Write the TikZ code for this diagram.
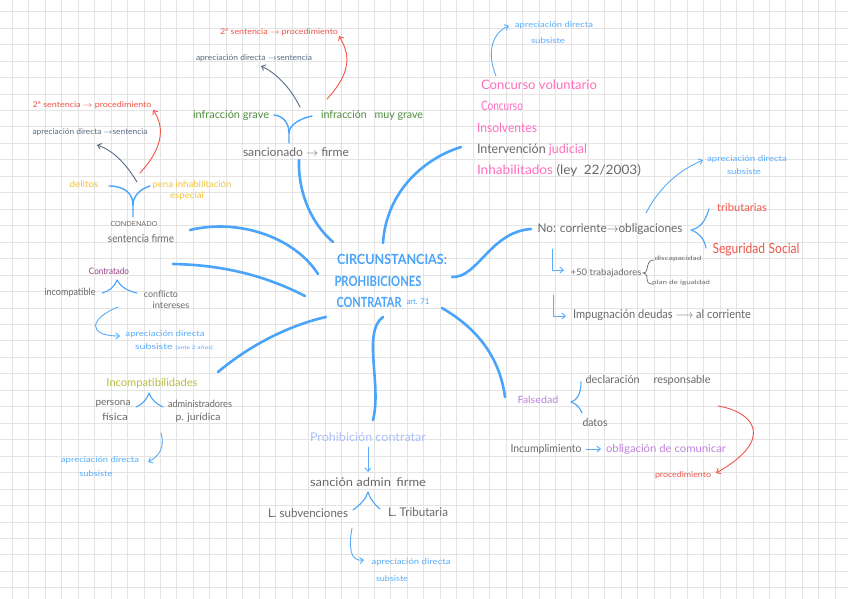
\documentclass[tikz,border=0pt]{standalone}
\usepackage{fontspec}
\setmainfont{Lato}
\usepackage{graphicx}
\usetikzlibrary{arrows.meta}
\definecolor{blueM}{RGB}{74,164,250}
\definecolor{blueA}{RGB}{88,172,250}
\definecolor{redC}{RGB}{240,84,72}
\definecolor{greenC}{RGB}{78,140,62}
\definecolor{grayT}{RGB}{105,105,105}
\definecolor{slateC}{RGB}{88,108,130}
\definecolor{yellowC}{RGB}{240,196,60}
\definecolor{pinkC}{RGB}{255,110,190}
\definecolor{purpleC}{RGB}{150,60,130}
\definecolor{oliveC}{RGB}{185,190,60}
\definecolor{lavC}{RGB}{170,190,250}
\definecolor{violetC}{RGB}{190,130,220}
\definecolor{gridC}{RGB}{228,228,228}
\newcommand\fw[2]{\resizebox{#1pt}{\height}{#2}}
\newcommand\fs[1]{\fontsize{#1}{#1}\selectfont}
\begin{document}
\begin{tikzpicture}[x=1pt,y=-1pt,
  tx/.style={inner sep=0pt, anchor=center},
  mainline/.style={draw=blueM, line width=2.6pt, line cap=round},
  forkline/.style={draw=blueM, line width=1.4pt, line cap=round, line join=round},
  note/.style={line width=0.9pt, line cap=round, line join=round},
  tip/.style={-{Straight Barb[length=3.5pt,width=6pt]}},
]
\useasboundingbox (0,0) rectangle (848,599);
\fill[white] (0,0) rectangle (848,599);
\begin{scope}
\clip (0,0) rectangle (848,599);
\foreach \i in {0,...,50} \draw[gridC, line width=0.9pt] ({12.3+16.46*\i},0) -- ({12.3+16.46*\i},599);
\foreach \j in {0,...,35} \draw[gridC, line width=0.9pt] (0,{11.7+16.46*\j}) -- (848,{11.7+16.46*\j});
\end{scope}

% ---------- centre ----------
\node[tx, text=blueM, font=\fs{14}\bfseries] (c1) at (392,259) {\fw{110}{CIRCUNSTANCIAS:}};
\node[tx, text=blueM, font=\fs{14}\bfseries] (c2) at (378,281) {\fw{87}{PROHIBICIONES}};
\node[tx, text=blueM, font=\fs{14}\bfseries] (c3) at (369,302) {\fw{65}{CONTRATAR}};
\node[tx, text=blueM, font=\fs{8}] (c4) at (418,302) {\fw{23}{art. 71}};

% ---------- top-left cluster ----------
\node[tx, text=redC, font=\fs{8}] (n1) at (92,105) {\fw{119}{2ª sentencia $\rightarrow$ procedimiento}};
\node[tx, text=slateC, font=\fs{8}] (n2) at (90,132) {\fw{115}{apreciación directa $\rightarrow$sentencia}};
\node[tx, text=yellowC, font=\fs{9}] (n3) at (84,184) {\fw{29}{delitos}};
\node[tx, text=yellowC, font=\fs{9}] (n4) at (192,185) {\fw{79}{pena inhabilitación}};
\node[tx, text=yellowC, font=\fs{9}] (n5) at (187,196) {\fw{34}{especial}};
\node[tx, text=grayT, font=\fs{7}] (n6) at (134,224) {\fw{47}{CONDENADO}};
\node[tx, text=grayT, font=\fs{11}] (n7) at (141,238) {\fw{66}{sentencia firme}};

% ---------- top-centre cluster ----------
\node[tx, text=redC, font=\fs{8}] (n8) at (279,32) {\fw{118}{2ª sentencia $\rightarrow$ procedimiento}};
\node[tx, text=slateC, font=\fs{8}] (n9) at (254,58) {\fw{116}{apreciación directa $\rightarrow$sentencia}};
\node[tx, text=greenC, font=\fs{11}] (n10) at (231,115) {\fw{76}{infracción grave}};
\node[tx, text=greenC, font=\fs{11}] (n11) at (372,115) {\fw{102}{infracción\hspace{8pt}muy grave}};
\node[tx, text=grayT, font=\fs{12}] (n12) at (296,152) {\fw{106}{sancionado $\rightarrow$ firme}};

% ---------- top-right list ----------
\node[tx, text=blueA, font=\fs{8}] (n13) at (554,25) {\fw{78}{apreciación directa}};
\node[tx, text=blueA, font=\fs{8}] (n14) at (548,41) {\fw{34}{subsiste}};
\node[tx, text=pinkC, font=\fs{13}] (n15) at (539,85) {\fw{116}{Concurso voluntario}};
\node[tx, text=pinkC, font=\fs{13}] (n16) at (502,106) {\fw{42}{Concurso}};
\node[tx, text=pinkC, font=\fs{13}] (n17) at (507,128) {\fw{60}{Insolventes}};
\node[tx, font=\fs{13}] (n18) at (532,150) {\fw{110}{\color{grayT}Intervención \color{pinkC}judicial}};
\node[tx, font=\fs{13}] (n19) at (559,171) {\fw{164}{\color{pinkC}Inhabilitados \color{grayT}(ley\hspace{6pt}22/2003)}};

% ---------- right cluster ----------
\node[tx, text=blueA, font=\fs{8}] (n20) at (747,159) {\fw{80}{apreciación directa}};
\node[tx, text=blueA, font=\fs{8}] (n21) at (744,172) {\fw{34}{subsiste}};
\node[tx, text=grayT, font=\fs{12}] (n22) at (610,229) {\fw{145}{No: corriente$\rightarrow$obligaciones}};
\node[tx, text=redC, font=\fs{11}] (n23) at (742,207) {\fw{50}{tributarias}};
\node[tx, text=redC, font=\fs{14}] (n24) at (756,250) {\fw{87}{Seguridad\hspace{4pt}Social}};
\node[tx, text=grayT, font=\fs{9}] (n25) at (606,273) {\fw{71}{+50 trabajadores}};
\node[tx, text=grayT, font=\fs{6}] (n26) at (678,259) {\fw{47}{discapacidad}};
\node[tx, text=grayT, font=\fs{6}] (n27) at (681,283) {\fw{58}{plan de igualdad}};
\node[tx, text=grayT, font=\fs{12}] (n28) at (662,315) {\fw{178}{Impugnación deudas $\longrightarrow$ al corriente}};

% ---------- Contratado ----------
\node[tx, text=purpleC, font=\fs{9}] (n33) at (109,271) {\fw{40}{Contratado}};
\node[tx, text=grayT, font=\fs{10}] (n34) at (70,293) {\fw{51}{incompatible}};
\node[tx, text=grayT, font=\fs{9}] (n35) at (161,294) {\fw{34}{conflicto}};
\node[tx, text=grayT, font=\fs{9}] (n36) at (171,305) {\fw{37}{intereses}};
\node[tx, text=blueA, font=\fs{8}] (n37) at (165,334) {\fw{79}{apreciación directa}};
\node[tx, text=blueA, font=\fs{8}] (n38) at (174,347) {\fw{78}{subsiste {\fs{5}[ante 2 años]}}};

% ---------- Incompatibilidades ----------
\node[tx, text=oliveC, font=\fs{11}] (n39) at (152,383) {\fw{91}{Incompatibilidades}};
\node[tx, text=grayT, font=\fs{10}] (n40) at (113,404) {\fw{35}{persona}};
\node[tx, text=grayT, font=\fs{10}] (n41) at (115,417) {\fw{26}{física}};
\node[tx, text=grayT, font=\fs{10}] (n42) at (200,404) {\fw{64}{administradores}};
\node[tx, text=grayT, font=\fs{10}] (n43) at (198,418) {\fw{45}{p. jurídica}};
\node[tx, text=blueA, font=\fs{8}] (n44) at (100,460) {\fw{78}{apreciación directa}};
\node[tx, text=blueA, font=\fs{8}] (n45) at (96,474) {\fw{33}{subsiste}};

% ---------- Prohibición contratar ----------
\node[tx, text=lavC, font=\fs{12}] (n46) at (368,437) {\fw{116}{Prohibición contratar}};
\node[tx, text=grayT, font=\fs{12}] (n47) at (368,482) {\fw{116}{sanción admin\hspace{5pt}firme}};
\node[tx, text=grayT, font=\fs{12}] (n48) at (308,513) {\fw{80}{L. subvenciones}};
\node[tx, text=grayT, font=\fs{12}] (n49) at (418,512) {\fw{60}{L. Tributaria}};
\node[tx, text=blueA, font=\fs{8}] (n50) at (411,562) {\fw{79}{apreciación directa}};
\node[tx, text=blueA, font=\fs{8}] (n51) at (392,579) {\fw{32}{subsiste}};

% ---------- Falsedad ----------
\node[tx, text=grayT, font=\fs{11}] (n52) at (648,380) {\fw{125}{declaración\hspace{14pt}responsable}};
\node[tx, text=violetC, font=\fs{10}] (n53) at (538,400) {\fw{41}{Falsedad}};
\node[tx, text=grayT, font=\fs{11}] (n54) at (595,422) {\fw{25}{datos}};
\node[tx, text=grayT, font=\fs{11}] (n55) at (546,449) {\fw{71}{Incumplimiento}};
\node[tx, text=violetC, font=\fs{11}] (n56) at (666,449) {\fw{120}{obligación de comunicar}};
\node[tx, text=redC, font=\fs{8}] (n57) at (683,475) {\fw{56}{procedimiento}};

% ---------- coordinates ----------
\coordinate (m1a) at (299,160); \coordinate (m1b) at (333,242);
\coordinate (m2a) at (461,147); \coordinate (m2b) at (383,243);
\coordinate (m3a) at (190,230); \coordinate (m3b) at (318,274);
\coordinate (m4a) at (173,264); \coordinate (m4b) at (305,296);
\coordinate (m5a) at (218,372); \coordinate (m5b) at (326,317);
\coordinate (m6a) at (452,277); \coordinate (m6b) at (531,229);
\coordinate (m7a) at (442,308); \coordinate (m7b) at (505,397);
\coordinate (m8a) at (383,317); \coordinate (m8b) at (373,420);

% ---------- main branches ----------
\draw[mainline] (m1a) .. controls (298,195) and (313,225) .. (m1b);
\draw[mainline] (m2a) .. controls (420,160) and (386,195) .. (m2b);
\draw[mainline] (m3a) .. controls (240,218) and (295,238) .. (m3b);
\draw[mainline] (m4a) .. controls (228,265) and (270,278) .. (m4b);
\draw[mainline] (m5a) .. controls (250,345) and (290,325) .. (m5b);
\draw[mainline] (m6a) .. controls (478,278) and (490,232) .. (m6b);
\draw[mainline] (m7a) .. controls (480,330) and (500,360) .. (m7b);
\draw[mainline] (m8a) .. controls (362,332) and (382,385) .. (m8b);

% ---------- forks ----------
\coordinate (f1l) at (109,186); \coordinate (f1r) at (150,186); \coordinate (f1j) at (133,205); \coordinate (f1s) at (133,217);
\draw[forkline] (f1l) .. controls (125,186) and (133,194) .. (f1j);
\draw[forkline] (f1r) .. controls (140,189) and (133,196) .. (f1j) -- (f1s);
\coordinate (f2l) at (274,115); \coordinate (f2r) at (312,116); \coordinate (f2j) at (289,133); \coordinate (f2s) at (289,143);
\draw[forkline] (f2l) .. controls (284,116) and (289,124) .. (f2j);
\draw[forkline] (f2r) .. controls (298,119) and (289,126) .. (f2j) -- (f2s);

% carets
\coordinate (k1l) at (102,293); \coordinate (k1p) at (117,280); \coordinate (k1r) at (137,293);
\draw[forkline, line width=1.1pt] (k1l) .. controls (110,291) and (115,286) .. (k1p) .. controls (120,286) and (127,291) .. (k1r);
\coordinate (k2l) at (136,407); \coordinate (k2p) at (149,393); \coordinate (k2r) at (163,407);
\draw[forkline, line width=1.1pt] (k2l) .. controls (143,404) and (147,399) .. (k2p) .. controls (151,399) and (156,404) .. (k2r);
\coordinate (k3l) at (353,510); \coordinate (k3p) at (368,492); \coordinate (k3r) at (380,509);
\draw[forkline, line width=1.1pt] (k3l) .. controls (360,505) and (366,499) .. (k3p) .. controls (370,499) and (375,505) .. (k3r);

% braces
\coordinate (b1t) at (709,209); \coordinate (b1p) at (691,230); \coordinate (b1b) at (706,248);
\draw[forkline, line width=1.1pt] (b1t) .. controls (705,222) and (700,228) .. (b1p) .. controls (699,233) and (704,238) .. (b1b);
\coordinate (b3t) at (581,382); \coordinate (b3p) at (571,402); \coordinate (b3b) at (582,413);
\draw[forkline, line width=1.1pt] (b3t) .. controls (581,394) and (577,400) .. (b3p) .. controls (577,404) and (580,408) .. (b3b);
\coordinate (b2t) at (654,260); \coordinate (b2p) at (643,273); \coordinate (b2b) at (652,284);
\draw[grayT, line width=0.7pt] (b2t) .. controls (648,260) and (648,265) .. (647,269) .. controls (647,272) and (645,273) .. (b2p) .. controls (645,273) and (647,274) .. (647,277) .. controls (647,282) and (648,284) .. (b2b);

% ---------- annotation arrows ----------
\coordinate (a1s) at (137,182); \coordinate (a1e) at (97,145);
\draw[note, slateC, tip] (a1s) .. controls (125,162) and (112,150) .. (a1e);
\coordinate (a2s) at (300,107); \coordinate (a2e) at (261,66);
\draw[note, slateC, tip] (a2s) .. controls (290,87) and (276,73) .. (a2e);
\coordinate (r1s) at (140,173); \coordinate (r1e) at (153,110);
\draw[note, redC, tip] (r1s) .. controls (166,145) and (163,124) .. (r1e);
\coordinate (r2s) at (327,99); \coordinate (r2e) at (339,36);
\draw[note, redC, tip] (r2s) .. controls (352,72) and (350,54) .. (r2e);
\coordinate (u1s) at (496,76); \coordinate (u1e) at (509,26);
\draw[note, blueA, tip] (u1s) .. controls (486,52) and (493,32) .. (u1e);
\coordinate (u2s) at (646,213); \coordinate (u2e) at (703,160);
\draw[note, blueA, tip] (u2s) .. controls (660,186) and (680,170) .. (u2e);
\coordinate (u3s) at (118,307); \coordinate (u3e) at (120,336);
\draw[note, blueA, tip] (u3s) .. controls (90,318) and (86,336) .. (u3e);
\coordinate (u4s) at (161,433); \coordinate (u4e) at (148,462);
\draw[note, blueA, tip] (u4s) .. controls (165,446) and (160,456) .. (u4e);
\coordinate (u5s) at (352,528); \coordinate (u5e) at (364,560);
\draw[note, blueA, tip] (u5s) .. controls (349,545) and (349,562) .. (u5e);
\coordinate (l1s) at (552,249); \coordinate (l1e) at (564,270);
\draw[note, blueA, tip] (l1s) |- (l1e);
\coordinate (l2s) at (553,295); \coordinate (l2e) at (566,316);
\draw[note, blueA, tip] (l2s) |- (l2e);
\coordinate (d1s) at (368,447); \coordinate (d1e) at (368,472);
\draw[note, blueA, tip] (d1s) -- (d1e);
\coordinate (i1s) at (586,449); \coordinate (i1e) at (601,449);
\draw[note, blueA, tip] (i1s) -- (i1e);
\coordinate (r3s) at (718,406); \coordinate (r3e) at (716,473);
\draw[note, redC, tip] (r3s) .. controls (755,412) and (775,440) .. (r3e);
\end{tikzpicture}
\end{document}
